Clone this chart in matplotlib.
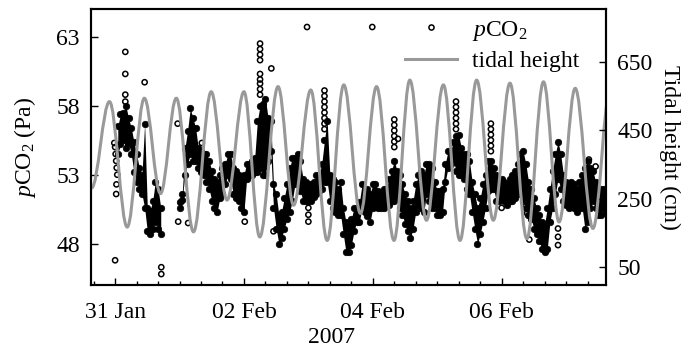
import matplotlib
matplotlib.use("Agg")
import matplotlib.pyplot as plt
import matplotlib.dates as mdates
from matplotlib.path import Path
from matplotlib.patches import PathPatch
import numpy as np

plt.rcParams['font.family'] = ['Liberation Serif', 'DejaVu Serif']
plt.rcParams['mathtext.fontset'] = 'custom'
plt.rcParams['mathtext.rm'] = 'Liberation Serif'
plt.rcParams['mathtext.it'] = 'Liberation Serif:italic'
plt.rcParams['font.size'] = 17

# hours after 31 Jan 2007 00:00
# pCO2 band (Pa), hourly lower / upper edge of the dense cloud of readings
seg1_start = 1
seg1_low = [54.5, 55.2, 55.5, 54.9, 55.3, 54.5, 53.2, 52.5, 52.0, 51.6, 50.6, 48.9,
            48.7, 49.1, 49.6, 49.1, 48.7]
seg1_high = [56.5, 57.4, 57.5, 58.0, 57.1, 56.4, 55.4, 54.5, 53.5, 53.0, 56.7, 50.6,
             50.4, 51.1, 52.5, 52.0, 50.6]

seg2_start = 24
seg2_low = [50.6, 51.2, 53.0, 53.8, 54.5, 54.0, 54.0, 53.5, 53.2, 53.0, 52.5, 52.0,
            51.1, 50.6, 50.3, 51.3, 51.6, 52.3, 53.0, 52.7, 51.6, 51.3, 51.1, 50.6,
            50.3, 52.7, 53.0, 53.0, 53.2, 53.2, 53.5, 53.0, 53.0, 54.0, 54.7, 50.6,
            49.1, 48.0, 48.4, 49.1, 49.8, 50.3, 51.1, 52.3, 52.3, 51.8, 51.1, 51.1,
            51.1, 51.1, 51.4, 51.6, 51.8, 52.0, 52.5, 52.5, 51.1, 50.6, 50.3, 50.1,
            50.1, 48.7, 47.4, 47.4, 47.9, 48.9, 49.6, 49.6, 50.6, 50.3, 50.0, 49.6,
            50.6, 50.8, 50.6, 50.6, 50.6, 50.8, 50.8, 51.1, 51.1, 51.3, 50.6, 50.1,
            49.4, 48.9, 48.4, 49.1, 50.3, 50.8, 50.6, 50.3, 51.6, 51.1, 50.6, 50.6,
            50.1, 50.1, 50.3, 52.5, 53.5, 53.8, 54.0, 53.3, 53.0, 53.0, 52.7, 52.0,
            51.6, 50.3, 49.1, 48.0, 48.7, 49.6, 50.6, 51.8, 52.0, 52.0, 51.1, 51.1,
            51.3, 51.1, 50.8, 51.1, 51.1, 51.3, 51.6, 51.6, 51.1, 50.6, 50.1, 49.8,
            49.1, 48.7, 48.2, 47.6, 47.4, 47.6, 49.6, 50.6, 51.6, 52.7, 52.0, 51.1,
            50.8, 50.6, 50.8, 50.6, 50.3, 50.6, 50.6, 49.1, 49.6, 50.6, 51.1, 50.6,
            50.1, 50.1, 50.6, 50.3]
seg2_high = [51.0, 51.6, 54.9, 56.2, 57.8, 57.1, 56.4, 54.9, 54.7, 54.5, 54.5, 54.0,
             53.3, 52.7, 52.5, 53.0, 53.5, 53.8, 54.5, 54.5, 53.5, 53.3, 53.0, 52.7,
             53.0, 53.8, 53.8, 54.0, 54.2, 56.9, 58.0, 58.1, 58.5, 57.1, 56.9, 52.3,
             51.6, 50.1, 50.3, 51.3, 52.3, 53.5, 54.2, 54.2, 54.5, 54.0, 52.7, 52.5,
             52.3, 52.3, 52.5, 53.0, 53.0, 53.8, 55.5, 56.9, 53.0, 52.7, 52.5, 52.0,
             52.5, 50.6, 49.6, 49.4, 49.8, 50.6, 50.6, 51.0, 52.3, 51.8, 52.0, 51.6,
             52.3, 52.3, 51.8, 51.6, 52.0, 52.0, 52.7, 53.3, 54.0, 53.3, 53.0, 52.3,
             51.6, 51.1, 50.6, 51.1, 52.3, 53.0, 53.3, 53.0, 53.8, 53.8, 53.5, 52.5,
             51.8, 51.8, 52.0, 53.8, 54.7, 54.7, 55.4, 55.8, 55.9, 54.9, 54.5, 54.5,
             54.0, 52.5, 51.6, 50.6, 51.3, 52.3, 53.0, 54.0, 54.0, 53.5, 53.0, 52.5,
             52.7, 52.5, 52.3, 52.7, 53.0, 53.3, 53.8, 54.5, 54.7, 53.8, 52.5, 52.0,
             51.3, 50.6, 50.1, 49.6, 49.4, 50.6, 52.0, 53.3, 54.5, 55.4, 54.5, 53.0,
             52.5, 52.3, 52.5, 52.3, 52.0, 52.5, 53.0, 53.5, 54.0, 53.5, 53.3, 52.5,
             52.0, 52.0, 52.0, 51.8]

# isolated readings and short spikes
spike_h = [-0.3, 0.0, 0.2, 0.4, 0.6, 0.8, 0.5, 0.4, 0.0,
           3.8, 3.8, 3.8, 3.8,
           11.0, 17.2, 17.2, 23.3, 23.5, 27.2, 32.3, 48.3,
           54.0, 54.0, 54.0, 54.0, 54.0, 54.0, 54.0, 54.0, 54.0,
           58.2, 59.0, 71.5, 72.0, 72.0, 72.0,
           78.0, 78.0, 78.0, 78.0, 78.0, 78.0, 78.0, 78.0,
           95.8,
           104.0, 104.0, 104.0, 104.0, 104.0, 104.0, 105.4,
           127.0, 127.0, 127.0, 127.0, 127.0, 127.0,
           140.0, 140.0, 140.0, 140.0, 140.0, 140.0,
           144.0, 153.0, 153.5, 154.3, 165.0, 165.0, 165.0, 176.5, 179.0]
spike_v = [55.3, 55.0, 54.5, 54.0, 53.5, 53.0, 52.3, 51.6, 46.8,
           61.9, 60.3, 58.8, 58.3,
           59.7, 46.3, 45.8, 56.7, 49.6, 49.5, 55.3, 49.6,
           62.5, 62.1, 61.7, 61.3, 60.3, 59.9, 59.6, 59.2, 58.8,
           60.7, 48.9, 63.7, 50.6, 50.1, 49.6,
           59.1, 58.7, 58.3, 57.9, 57.5, 57.1, 56.7, 56.3,
           63.7,
           57.0, 56.6, 56.2, 55.8, 55.4, 55.0, 55.6,
           58.3, 57.9, 57.5, 57.1, 56.7, 56.3,
           56.7, 56.3, 55.9, 55.5, 55.1, 54.7,
           50.6, 50.8, 50.2, 48.3, 49.1, 48.5, 47.9, 54.1, 53.6]

# tidal height (cm): successive low / high waters
tide_h = [-8.8, -2.1, 4.5, 10.9, 16.9, 22.8, 29.2, 35.8, 41.7, 48.0, 53.9, 60.7,
          66.5, 72.9, 79.0, 85.2, 91.4, 97.4, 103.9, 109.8, 116.0, 122.3, 128.5,
          134.7, 140.9, 147.1, 153.4, 159.6, 165.4, 171.4, 178.0, 184.6]
tide_cm = [281, 534, 167, 544, 265, 544, 153, 563, 246, 563, 138, 578,
           231, 568, 128, 583, 207, 578, 128, 597, 187, 583, 128,
           597, 187, 588, 133, 592, 182, 573, 163, 580]

tick_dates = ['2007-01-31', '2007-02-02', '2007-02-04', '2007-02-06']

base = mdates.date2num(np.datetime64('2007-01-31T00:00'))


def to_num(hours):
    return base + np.asarray(hours, dtype=float) / 24.0


gray = '#999999'
ms = 14
mlw = 1.1

fig = plt.figure(figsize=(6.89, 3.49), dpi=100)
ax = fig.add_axes([0.132, 0.183, 0.748, 0.791])
ax2 = ax.twinx()

# pCO2 cloud: solid core, rounded by overlapping circles along both edges
for start, low, high in [(seg1_start, seg1_low, seg1_high), (seg2_start, seg2_low, seg2_high)]:
    t = to_num(np.arange(start, start + len(low)))
    ax.fill_between(t, low, high, color='black', lw=0)
    ax.scatter(t, low, s=22, color='black', linewidths=0.5)
    ax.scatter(t, high, s=22, color='black', linewidths=0.5)
ax.scatter(to_num(spike_h), spike_v, s=ms, facecolors='none', edgecolors='black',
           linewidths=mlw)

# tide curve: smooth half-waves between high and low waters
k = 0.364
tt = to_num(tide_h)
verts = [(tt[0], tide_cm[0])]
codes = [Path.MOVETO]
for i in range(1, len(tt)):
    dt = tt[i] - tt[i - 1]
    verts += [(tt[i - 1] + k * dt, tide_cm[i - 1]), (tt[i] - k * dt, tide_cm[i]),
              (tt[i], tide_cm[i])]
    codes += [Path.CURVE4] * 3
ax2.add_patch(PathPatch(Path(verts, codes), facecolor='none', edgecolor=gray, lw=2.2))

ax.set_xlim(to_num(-9), to_num(183))
ax.set_ylim(45, 65)
ax2.set_ylim(-3, 805)
ax.set_yticks([48, 53, 58, 63])
ax2.set_yticks([50, 250, 450, 650])

ax.xaxis.set_major_locator(mdates.ticker.FixedLocator(
    [mdates.date2num(np.datetime64(d)) for d in tick_dates]))
ax.xaxis.set_major_formatter(mdates.DateFormatter('%d %b'))
ax.xaxis.set_minor_locator(mdates.HourLocator(byhour=[0, 8, 16]))

ax.tick_params(which='both', direction='in', top=False)
ax.tick_params(which='major', length=5, width=1)
ax.tick_params(which='minor', length=3, width=1)
ax.tick_params(axis='y', pad=8)
ax.tick_params(axis='x', pad=12)
ax2.tick_params(direction='in', length=5, width=1, pad=8)

for a in (ax, ax2):
    for sp in a.spines.values():
        sp.set_linewidth(1.5)

ax.set_ylabel(r'$p$CO$_2$ (Pa)', labelpad=13)
ax2.set_ylabel('Tidal height (cm)', rotation=270, labelpad=20)
ax.set_xlabel('2007')
ax.xaxis.set_label_coords(0.466, -0.15)

h1, = ax.plot([], [], 'o', mfc='none', mec='black', ms=3.7, mew=mlw, label=r'$p$CO$_2$')
h2, = ax.plot([], [], color=gray, lw=2.2, label='tidal height')
ax2.legend(handles=[h1, h2], loc='upper right', frameon=False, handlelength=2.2,
           handletextpad=0.6, labelspacing=0.35, borderaxespad=0.0, numpoints=1,
           bbox_to_anchor=(0.965, 1.0))

fig.savefig('out.png', dpi=100)
